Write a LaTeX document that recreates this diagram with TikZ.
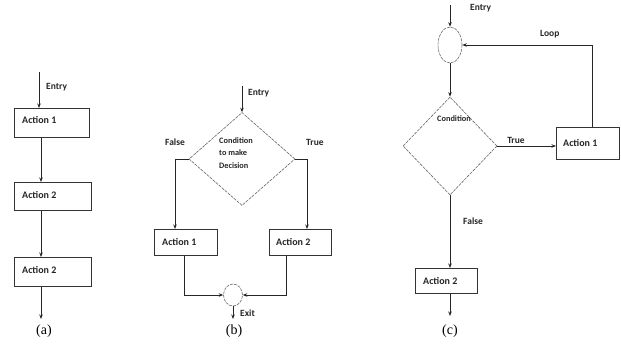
\documentclass[tikz,border=0pt]{standalone}
\usepackage{fontspec}
\setmainfont{Carlito}
\newfontfamily\capfont{Liberation Serif}
\usetikzlibrary{shapes.geometric,arrows.meta}
\tikzset{
  ln/.style={draw=black!85, line width=0.8pt},
  arr/.style={ln, -{Stealth[length=4.5pt,width=3.5pt]}},
  abox/.style={draw=black!80, line width=0.75pt, minimum height=#1, anchor=north west, inner sep=0pt},
  lbl/.style={font=\bfseries\fontsize{9.5}{10}\selectfont, anchor=west, inner sep=0pt, text=black!85},
  blbl/.style={font=\bfseries\fontsize{10}{11}\selectfont, anchor=west, inner sep=0pt, text=black!85},
  clbl/.style={font=\bfseries\fontsize{8.3}{12.5}\selectfont, align=left, inner sep=0pt, text=black!85},
  dia/.style={draw=black!60, line width=0.6pt, dash pattern=on 3pt off 1pt, shape=diamond, inner sep=0pt},
  ovl/.style={draw=black!60, line width=0.6pt, dash pattern=on 3pt off 1pt, shape=ellipse, inner sep=0pt},
  captxt/.style={font=\capfont\fontsize{14}{16}\selectfont, inner sep=0pt}
}
\begin{document}
\begin{tikzpicture}[x=1pt,y=-1pt]
\useasboundingbox (0,0) rectangle (621,345);
% ---------- (a) ----------
\node[abox=29pt, minimum width=75pt] (a1) at (14,108) {};
\node[abox=28pt, minimum width=77pt] (a2) at (14,182) {};
\node[abox=29pt, minimum width=77pt] (a3) at (14,257) {};
\node[blbl] (ta1) at (22,120) {Action 1};
\node[blbl] (ta2) at (22,195) {Action 2};
\node[blbl] (ta3) at (22,270) {Action 2};
\coordinate (aentry) at (39,72);
\coordinate (aout) at (41,319);
\node[lbl] (aentryl) at (46,87) {Entry};
\draw[arr] (aentry) -- ([xshift=25pt]a1.north west);
\draw[arr] ([xshift=27pt]a1.south west) -- ([xshift=27pt]a2.north west);
\draw[arr] ([xshift=27pt]a2.south west) -- ([xshift=27pt]a3.north west);
\draw[arr] ([xshift=27pt]a3.south west) -- (aout);
\node[captxt] (capa) at (44,331) {(a)};
% ---------- (b) ----------
\node[dia, minimum width=106pt, minimum height=93pt] (db) at (242,159) {};
\node[clbl, anchor=north west] (tdb) at (219,137) {Condition\\to make\\Decision};
\coordinate (bentry) at (242,86);
\node[lbl] (bentryl) at (248,93) {Entry};
\draw[arr] (bentry) -- (db.north);
\node[lbl] (bfalse) at (165,142) {False};
\node[lbl] (btrue) at (306,142) {True};
\node[abox=26pt, minimum width=63pt] (b1) at (154,229) {};
\node[abox=26pt, minimum width=62pt] (b2) at (269,229) {};
\node[blbl] (tb1) at (162,242) {Action 1};
\node[blbl] (tb2) at (276,242) {Action 2};
\draw[arr] (db.west) -| ([xshift=21pt]b1.north west);
\draw[arr] (db.east) -| ([xshift=38pt]b2.north west);
\node[ovl, minimum width=19pt, minimum height=22pt] (bex) at (233,295) {};
\draw[arr] ([xshift=30pt]b1.south west) |- (bex.west);
\draw[arr] ([xshift=17pt]b2.south west) |- (bex.east);
\coordinate (bout) at (233,319);
\draw[arr] (bex.south) -- (bout);
\node[lbl] (bexit) at (240,313) {Exit};
\node[captxt] (capb) at (234,331) {(b)};
% ---------- (c) ----------
\node[ovl, minimum width=24pt, minimum height=36pt] (ec) at (450,45) {};
\coordinate (centry) at (450,5);
\node[lbl] (centryl) at (470,8) {Entry};
\draw[arr] (centry) -- (ec.north);
\node[dia, minimum width=94pt, minimum height=98pt] (dc) at (450,146) {};
\node[clbl] (tdc) at (454,119) {Condition};
\draw[arr] (ec.south) -- (dc.north);
\node[abox=32pt, minimum width=63pt] (c1) at (556,127) {};
\node[blbl] (tc1) at (563,143) {Action 1};
\draw[arr] (dc.east) -- (c1.west |- dc.east);
\node[lbl, anchor=center] (ctrue) at (516,140) {True};
\draw[arr] ([xshift=36pt]c1.north west) |- (ec.east);
\node[lbl] (cloop) at (540,34) {Loop};
\node[abox=25pt, minimum width=62pt] (c2) at (415,268) {};
\node[blbl] (tc2) at (423,281) {Action 2};
\draw[arr] (dc.south) -- (c2.north -| dc.south);
\node[lbl] (cfalse) at (463,221) {False};
\coordinate (cout) at (450,316);
\draw[arr] (c2.south -| dc.south) -- (cout);
\node[captxt] (capc) at (450,331) {(c)};
\end{tikzpicture}
\end{document}
